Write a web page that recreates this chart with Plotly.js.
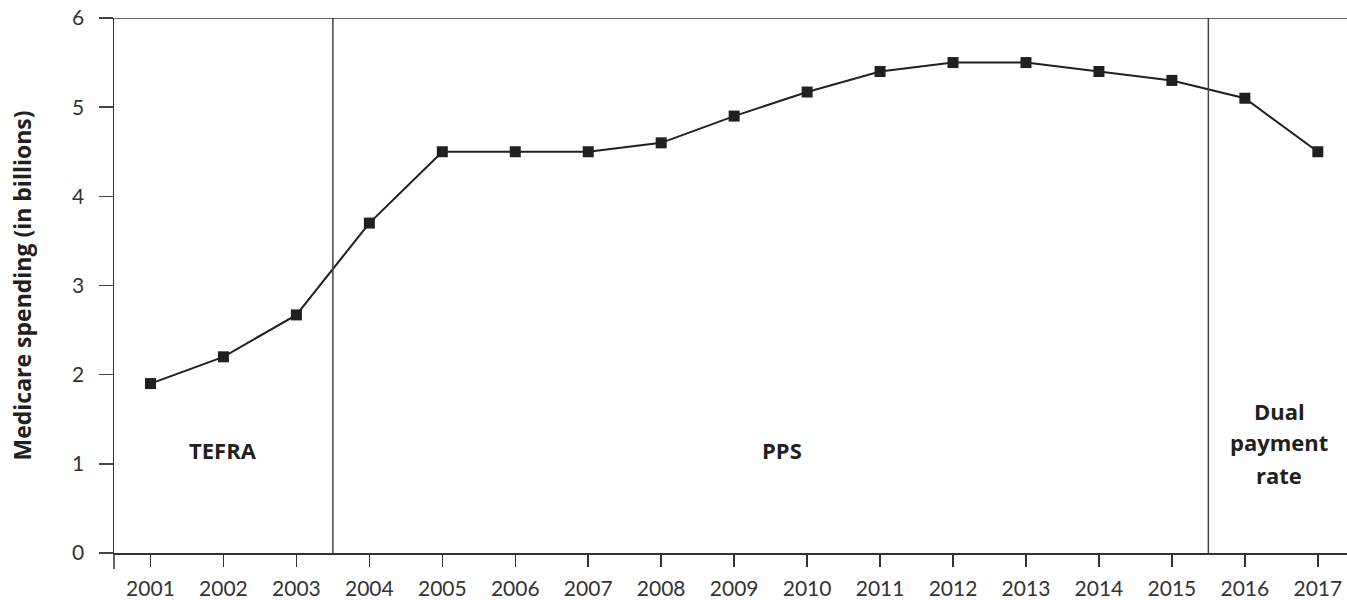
<!DOCTYPE html>
<html>
<head>
<meta charset="utf-8">
<script src="https://cdn.plot.ly/plotly-3.0.1.min.js"></script>
<style>html,body{margin:0;padding:0;background:#fff;}#chart{width:1347px;height:600px;}</style>
</head>
<body>
<div id="chart"></div>
<script>
const years = [2001,2002,2003,2004,2005,2006,2007,2008,2009,2010,2011,2012,2013,2014,2015,2016,2017];
const spending = [1.9,2.2,2.67,3.7,4.5,4.5,4.5,4.6,4.9,5.17,5.4,5.5,5.5,5.4,5.3,5.1,4.5];
const yTicks = [0,1,2,3,4,5,6];
const periodBreaks = [2003.5, 2015.5];
const periodLabels = [
  {text: 'TEFRA', x: 2002.0, y: 1.16},
  {text: 'PPS', x: 2009.65, y: 1.16},
  {text: 'Dual', x: 2016.47, y: 1.59},
  {text: 'payment', x: 2016.47, y: 1.24},
  {text: 'rate', x: 2016.47, y: 0.87}
];
const yTitle = 'Medicare spending (in billions)';

const ink = '#231f20';
const shapes = [];
periodBreaks.forEach(b => shapes.push({type:'line', xref:'x', yref:'y', x0:b, x1:b, y0:0, y1:6, line:{color:'#444', width:1.5}}));
shapes.push({type:'line', xref:'paper', yref:'y', x0:0, x1:1, y0:6, y1:6, line:{color:'#333', width:1.5}});
shapes.push({type:'line', xref:'paper', yref:'paper', x0:0, x1:0, y0:0, y1:-0.03, line:{color:'#333', width:1.5}});

const annotations = periodLabels.map(p => ({
  text: '<b>' + p.text + '</b>', x: p.x, y: p.y, xref:'x', yref:'y', showarrow:false,
  font:{family:'"Open Sans", Lato, sans-serif', size:22, color:ink}
}));

Plotly.newPlot('chart', [{
  x: years, y: spending, type:'scatter', mode:'lines+markers',
  line:{color:ink, width:2},
  marker:{symbol:'square', size:11, color:ink},
  hoverinfo:'x+y'
}], {
  width:1347, height:600,
  margin:{l:114, r:0, t:17.5, b:46.5},
  paper_bgcolor:'#fff', plot_bgcolor:'#fff',
  showlegend:false,
  xaxis:{
    range:[2000.5, 2017.4], tickvals: years, ticktext: years.map(String),
    showgrid:false, zeroline:false, showline:true, linecolor:'#333', linewidth:1.5,
    ticks:'outside', ticklen:12, tickwidth:1.5, tickcolor:'#333',
    ticklabelstandoff:4,
    tickfont:{family:'Lato, sans-serif', size:21, color:'#333'}
  },
  yaxis:{
    range:[0,6], tickvals: yTicks, ticktext: yTicks.map(String),
    showgrid:false, zeroline:false, showline:true, linecolor:'#333', linewidth:1.5,
    ticks:'outside', ticklen:14, tickwidth:1.5, tickcolor:'#444',
    ticklabelstandoff:10,
    tickfont:{family:'Lato, sans-serif', size:21, color:'#333'},
    title:{text:'<b>' + yTitle + '</b>', standoff:34, font:{family:'"Open Sans", Lato, sans-serif', size:23, color:ink}}
  },
  shapes: shapes,
  annotations: annotations
}, {displayModeBar:false, staticPlot:true});
</script>
</body>
</html>
